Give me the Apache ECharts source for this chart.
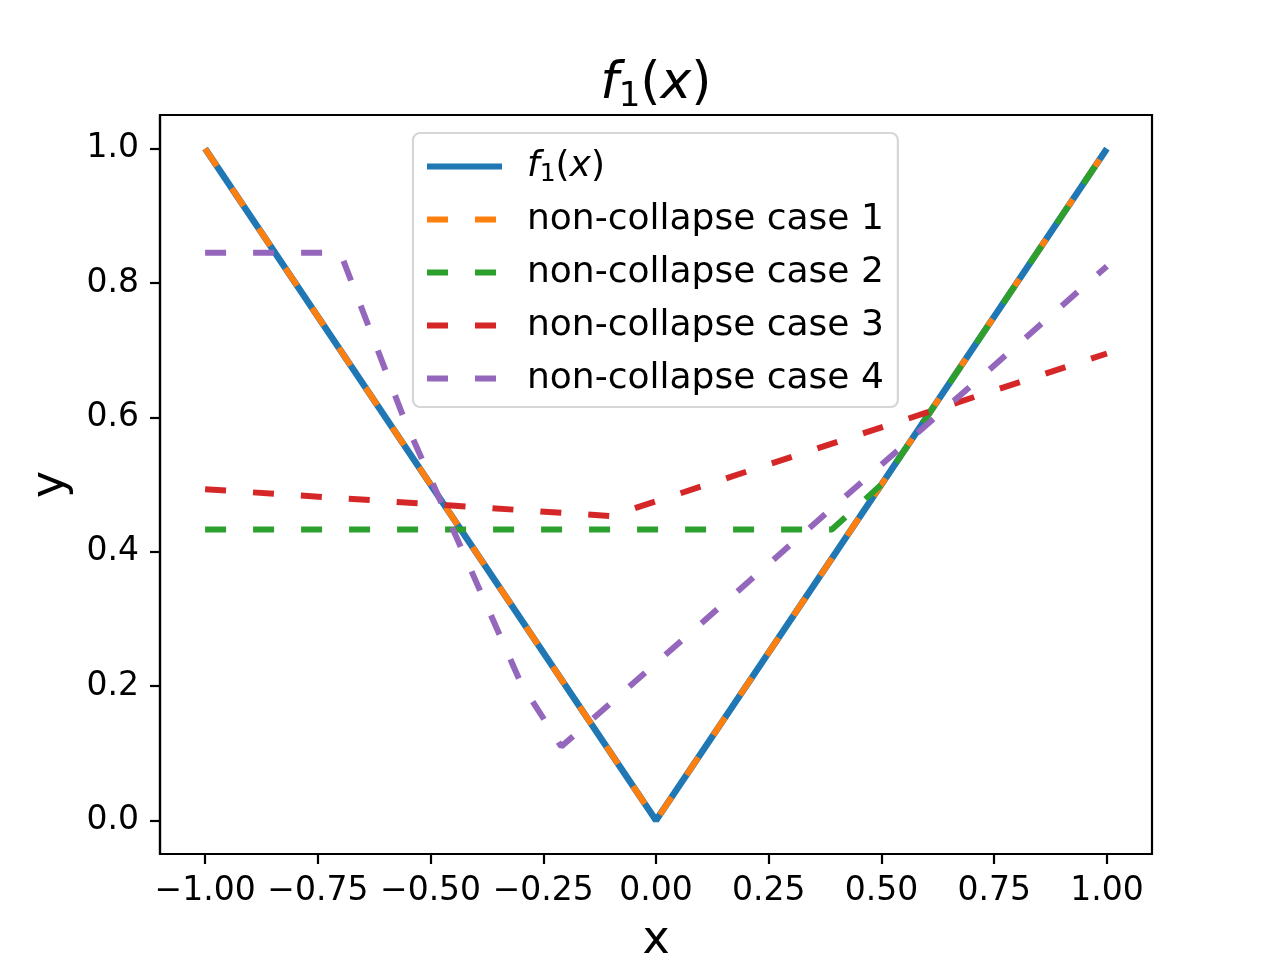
<!DOCTYPE html>
<html>
<head>
<meta charset="utf-8">
<script src="https://cdn.jsdelivr.net/npm/echarts@6/dist/echarts.min.js"></script>
<style>
  html, body { margin: 0; padding: 0; background: #fff; }
  #main { width: 1280px; height: 960px; }
</style>
</head>
<body>
<div id="main"></div>
<script>
// tick positions
var xTicks = [-1, -0.75, -0.5, -0.25, 0, 0.25, 0.5, 0.75, 1];
var yTicks = [0, 0.2, 0.4, 0.6, 0.8, 1.0];

// f1(x) = |x|
var fX = [-1, 0, 1];
var fY = [1, 0, 1];

// non-collapse cases (kink points)
var c1X = [-1, 0, 1];
var c1Y = [1, 0, 1];

var c2X = [-1, 0.39, 0.5, 1];
var c2Y = [0.433, 0.433, 0.5, 1];

var c3X = [-1, -0.1, 1];
var c3Y = [0.493, 0.453, 0.695];

var c4X = [-1, -0.70, -0.56, -0.30, -0.21, 1];
var c4Y = [0.845, 0.845, 0.60, 0.205, 0.11, 0.825];

var names = ['f1(x)', 'non-collapse case 1', 'non-collapse case 2', 'non-collapse case 3', 'non-collapse case 4'];
var colors = ['#1f77b4', '#ff7f0e', '#2ca02c', '#d62728', '#9467bd'];

var FONT = 'DejaVu Sans';
var dash = [21, 27];

function pairs(xs, ys) {
	var out = [];
	for (var i = 0; i < xs.length; i++) {
		out.push([xs[i], ys[i]]);
	}
	return out;
}

function makeLine(name, xs, ys, color, type, width) {
	return {
		name : name,
		type : 'line',
		data : pairs(xs, ys),
		symbol : 'none',
		animation : false,
		lineStyle : {
			color : color,
			width : width,
			type : type,
			cap : 'butt'
		},
		itemStyle : { color : color }
	};
}

var dom = document.getElementById('main');
var myChart = echarts.init(dom);

var option = {
	backgroundColor : '#fff',
	color : colors,
	animation : false,
	textStyle : { fontFamily : FONT },
	grid : {
		left : 160,
		right : 128,
		top : 115,
		bottom : 106,
		outerBoundsMode : 'none',
		containLabel : false,
		show : true,
		borderColor : '#000',
		borderWidth : 2.2,
		backgroundColor : 'transparent'
	},
	graphic : [ {
		type : 'text',
		x : 656,
		y : 54,
		style : {
			text : '{i|f}{s|1}{n|(}{i|x}{n|)}',
			align : 'center',
			verticalAlign : 'top',
			fill : '#000',
			rich : {
				i : { fontFamily : FONT, fontStyle : 'italic', fontSize : 52, lineHeight : 60, fill : '#000' },
				n : { fontFamily : FONT, fontSize : 52, lineHeight : 60, fill : '#000' },
				s : { fontFamily : FONT, fontSize : 34, lineHeight : 34, verticalAlign : 'bottom', fill : '#000' }
			}
		}
	} ],
	legend : {
		orient : 'vertical',
		left : 413,
		top : 133,
		padding : [ 13, 14, 8, 11 ],
		itemGap : 12,
		itemWidth : 75,
		itemHeight : 20,
		backgroundColor : 'rgba(255,255,255,0.8)',
		borderColor : '#d6d6d6',
		borderWidth : 2.2,
		borderRadius : 7,
		itemStyle : { opacity : 0 },
		lineStyle : { width : 6 },
		data : names,
		formatter : function(name) {
			if (name == 'f1(x)') {
				return '{i|f}{s|1}{n|(}{i|x}{n|)}';
			}
			return name;
		},
		textStyle : {
			fontFamily : FONT,
			fontSize : 36,
			lineHeight : 41,
			color : '#000',
			padding : [ 0, 0, 0, 20 ],
			rich : {
				i : { fontFamily : FONT, fontStyle : 'italic', fontSize : 36, lineHeight : 41, color : '#000' },
				n : { fontFamily : FONT, fontSize : 36, lineHeight : 41, color : '#000' },
				s : { fontFamily : FONT, fontSize : 25, lineHeight : 24, verticalAlign : 'bottom', color : '#000' }
			}
		}
	},
	xAxis : {
		type : 'value',
		min : -1.1,
		max : 1.1,
		name : 'x',
		nameLocation : 'middle',
		nameGap : 64,
		nameTextStyle : { fontFamily : FONT, fontSize : 46, color : '#000' },
		axisLine : { show : true, onZero : false, lineStyle : { color : '#000', width : 2.2 } },
		axisTick : { show : true, length : 10, lineStyle : { color : '#000', width : 2.2 }, customValues : xTicks },
		axisLabel : {
			margin : 21,
			fontFamily : FONT,
			fontSize : 33,
			color : '#000',
			customValues : xTicks,
			formatter : function(v) {
				return (v < 0 ? '\u2212' : '') + Math.abs(v).toFixed(2);
			}
		},
		splitLine : { show : false }
	},
	yAxis : {
		type : 'value',
		min : -0.05,
		max : 1.05,
		name : 'y',
		nameLocation : 'middle',
		nameRotate : 90,
		nameGap : 86,
		nameTextStyle : { fontFamily : FONT, fontSize : 46, color : '#000' },
		axisLine : { show : true, onZero : false, lineStyle : { color : '#000', width : 2.2 } },
		axisTick : { show : true, length : 10, lineStyle : { color : '#000', width : 2.2 }, customValues : yTicks },
		axisLabel : {
			margin : 21,
			fontFamily : FONT,
			fontSize : 33,
			color : '#000',
			customValues : yTicks,
			formatter : function(v) {
				return v.toFixed(1);
			}
		},
		splitLine : { show : false }
	},
	series : [
		makeLine(names[0], fX, fY, colors[0], 'solid', 6.5),
		makeLine(names[1], c1X, c1Y, colors[1], dash, 6),
		makeLine(names[2], c2X, c2Y, colors[2], dash, 6),
		makeLine(names[3], c3X, c3Y, colors[3], dash, 6),
		makeLine(names[4], c4X, c4Y, colors[4], dash, 6)
	]
};

if (option && typeof option === "object") {
	myChart.setOption(option, true);
}
</script>
</body>
</html>
